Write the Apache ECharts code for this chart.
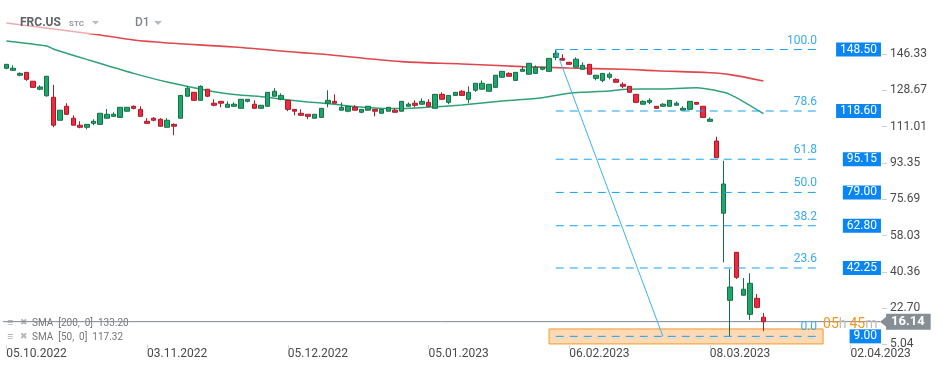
<!DOCTYPE html>
<html><head><meta charset="utf-8">
<script src="https://cdn.jsdelivr.net/npm/echarts@6/dist/echarts.min.js"></script>
<style>html,body{margin:0;padding:0;background:#fff}#c{width:949px;height:370px}</style>
</head><body><div id="c"></div>
<script>
// ---- data ----
// daily candles [open, close, low, high]
const candles = [
[139.4,141.3,138.9,141.4],[138.4,139.4,138.3,140.8],[136.0,136.9,135.5,137.4],[137.4,134.0,133.3,137.5],[133.1,130.1,130.0,133.1],
[129.2,130.3,128.7,131.1],[126.0,135.5,125.6,135.6],[125.3,111.7,110.7,131.3],[114.1,119.0,114.0,119.1],[120.9,117.0,116.9,122.4],
[115.1,111.7,111.6,116.5],[111.7,110.7,110.2,113.6],[110.7,112.1,109.7,112.2],[112.6,113.6,111.7,114.6],[112.1,117.5,112.0,117.6],
[115.1,117.0,115.0,119.6],[116.0,117.0,115.9,118.0],[115.5,120.4,115.4,120.5],[118.5,120.4,118.4,120.5],[120.9,119.9,119.4,121.3],
[119.4,116.0,115.9,120.9],[113.6,112.6,112.5,115.1],[115.1,114.1,113.6,115.6],[114.6,111.2,111.1,115.1],[110.7,114.1,110.6,115.1],
[112.1,111.2,106.8,112.6],[115.1,126.2,115.0,126.3],[125.8,129.7,125.7,130.6],[127.7,123.8,123.7,127.8],[123.8,130.6,123.7,131.1],
[129.2,125.8,125.3,129.3],[122.4,121.4,120.9,124.3],[123.3,122.4,120.4,123.4],[120.4,121.9,120.3,123.3],[120.9,121.9,120.8,122.8],
[119.9,124.3,119.8,124.4],[123.3,124.3,122.8,124.4],[121.9,119.9,119.8,123.8],[119.9,121.4,119.8,121.5],[120.9,127.7,120.8,127.8],
[125.8,128.2,125.7,129.7],[124.3,126.2,123.8,127.2],[123.8,119.4,118.5,123.9],[119.4,118.5,116.5,119.5],[117.5,116.5,116.4,119.4],
[117.0,116.0,114.6,117.1],[115.1,117.0,115.0,117.1],[115.5,119.9,115.4,120.0],[122.4,123.8,120.4,128.7],[123.3,122.4,122.3,126.7],
[119.0,120.4,118.9,122.8],[118.5,120.9,118.0,121.0],[120.4,119.0,118.9,121.4],[118.0,119.4,117.5,119.5],[119.0,120.9,118.9,121.0],
[119.4,118.5,116.0,119.5],[117.5,119.4,117.4,119.5],[118.5,120.4,118.4,120.5],[119.0,118.0,117.9,119.9],[118.5,123.3,118.4,123.4],
[120.9,121.9,120.8,122.8],[122.4,121.4,120.4,123.8],[121.9,123.3,121.8,124.8],[122.8,120.9,120.8,124.3],[119.9,126.7,119.8,126.8],
[126.7,124.3,124.2,127.7],[122.8,126.2,121.9,126.3],[126.2,127.7,126.1,127.8],[128.2,126.2,126.1,128.7],[124.3,127.7,122.4,130.6],
[128.7,132.1,127.9,132.2],[129.2,132.1,129.1,133.5],[128.2,131.6,128.1,131.7],[130.1,136.0,130.0,136.1],[135.0,137.9,134.9,138.0],
[136.9,135.5,135.4,137.4],[133.5,137.4,133.4,137.5],[137.9,138.9,137.8,140.4],[136.5,141.8,136.4,141.9],[136.9,139.9,136.8,140.8],
[138.9,139.9,138.4,140.0],[137.9,144.2,137.8,144.3],[144.7,146.7,143.3,148.5],[144.2,143.3,143.2,146.2],[142.3,141.3,141.2,142.4],
[139.9,143.8,139.8,144.7],[138.9,140.8,138.8,142.3],[141.3,136.5,136.4,141.4],[134.5,136.0,133.5,136.1],[133.5,136.9,132.6,137.0],
[135.0,136.5,134.0,137.4],[134.0,132.6,132.5,134.5],[131.6,130.6,129.7,132.6],[130.6,127.7,127.6,130.7],[126.7,122.8,122.4,126.8],
[121.9,123.3,121.8,123.8],[122.8,123.8,121.9,124.8],[120.9,119.9,119.8,121.0],[120.9,121.9,120.8,122.4],[120.9,123.8,120.8,123.9],
[121.4,122.4,121.3,123.3],[119.0,119.9,118.9,120.9],[119.4,123.3,119.3,123.4],[122.8,121.9,121.8,122.9],[120.9,115.5,115.4,121.0],
[113.6,114.6,113.5,115.5],[104.0,95.9,95.8,106.1],[68.9,83.1,45.0,94.4],[26.5,33.0,9.0,41.8],[49.9,37.7,36.9,50.0],
[29.0,31.9,28.9,37.4],[19.7,34.8,17.0,39.7],[27.5,23.1,22.6,29.6],[18.3,16.14,11.5,20.4]
];
// moving averages: [bar index, value]
const sma200 = [[0,161.4],[14,155.6],[19,153.1],[24,151.7],[34,149.7],[44,147.0],[47,146.3],[59,142.6],[68,141.5],[77,140.2],[84,139.5],[92,138.9],[97,138.2],[105,137.2],[108,136.3],[113,133.2]];
const sma50 = [[0,152.7],[6,150.2],[7,148.8],[12,143.7],[19,136.9],[24,132.7],[31,128.0],[34,126.6],[39,125.3],[40,124.8],[45,123.0],[47,122.5],[50,121.5],[51,121.0],[57,119.8],[59,119.8],[64,120.7],[66,121.0],[68,121.5],[74,123.5],[80,125.1],[84,127.2],[86,127.7],[90,128.3],[92,129.1],[95,129.3],[97,129.3],[103,129.9],[106,128.5],[108,126.7],[113,117.32]];
const sma200Last = 133.20, sma50Last = 117.32;
// fibonacci retracement
const fibRatios = ['100.0','78.6','61.8','50.0','38.2','23.6','0.0'];
const fibPrices = [148.50,118.60,95.15,79.00,62.80,42.25,9.00];
const fibFrom = 82, fibTo = 121.6;          // bar index span of the levels
const trendFrom = [82,148.50], trendTo = [98,9.00];
const zoneX = [81,121.9], zoneY = [12.6,5.3];
const lastPrice = 16.14;
// axes
const yTicks = [146.33,128.67,111.01,93.35,75.69,58.03,40.36,22.70,5.04];
const xTickIdx = [0,21,42,63,84,105,126];
const xTickLabels = ['05.10.2022','03.11.2022','05.12.2022','05.01.2023','06.02.2023','08.03.2023','02.04.2023'];
const nSlots = 140;

// ---- chart ----
const chart = echarts.init(document.getElementById('c'));
const cats = Array.from({length:nSlots},(_,i)=>String(i));
const labelMap = {}; xTickIdx.forEach((k,i)=>labelMap[k]=xTickLabels[i]);
const FONT = 'Roboto';
const YMIN = 4.79, YMAX = 167.73;
const PRICE_X = 130.54, ARROW_X = 130.4, LABEL_X = 131.3, TIMER_X = 121.9;
const FIB = '#14a2f2';

const fibSeries = fibPrices.map((p,i)=>({
  type:'line',xAxisIndex:1,z:4,silent:true,showSymbol:false,symbol:'none',
  data:[[fibFrom,p],[fibTo,p]],
  color:FIB,
  lineStyle:{color:FIB,width:1,type:[8,6]}
}));

chart.setOption({
  animation:false,
  backgroundColor:'#fff',
  textStyle:{fontFamily:FONT},
  grid:{left:3,right:8,top:10,bottom:25,containLabel:false},
  xAxis:[{
    type:'category',data:cats,boundaryGap:true,
    axisLine:{show:false},
    axisTick:{show:true,alignWithLabel:true,length:4,lineStyle:{color:'#d5d5d5'},interval:(i)=>labelMap[i]!==undefined},
    axisLabel:{interval:(i)=>labelMap[i]!==undefined,formatter:(v,i)=>labelMap[i]||'',align:'left',color:'#4a4a4a',fontSize:12,margin:3,fontFamily:FONT},
    splitLine:{show:false}
  },{
    type:'value',min:-0.5,max:nSlots-0.5,show:false
  }],
  yAxis:[{
    type:'value',position:'right',min:YMIN,max:YMAX,
    axisLine:{show:false},axisTick:{show:false},splitLine:{show:false},
    axisLabel:{inside:true,margin:51,align:'left',color:'#4a4a4a',fontSize:12,fontFamily:FONT,customValues:yTicks,formatter:(v)=>v.toFixed(2)}
  },{
    type:'value',position:'right',offset:-54,min:YMIN,max:YMAX,
    axisLine:{show:false},splitLine:{show:false},axisLabel:{show:false},
    axisTick:{show:true,inside:true,length:5,lineStyle:{color:'#cfcfcf'},customValues:yTicks}
  }],
  series:[
    {
      type:'line',xAxisIndex:1,data:sma200,showSymbol:false,smooth:0.3,z:1,
      lineStyle:{color:'#e0474c',width:1.6},silent:true
    },
    {
      type:'line',xAxisIndex:1,data:sma50,showSymbol:false,smooth:0.3,z:1,
      lineStyle:{color:'#2fa276',width:1.5},silent:true
    },
    {
      type:'candlestick',data:candles,barWidth:5,z:3,
      itemStyle:{color:'#1fa66c',borderColor:'#157046',color0:'#ee2a3d',borderColor0:'#ab1a2b',borderWidth:1}
    },
    ...fibSeries,
    { // trend line of the retracement
      type:'line',xAxisIndex:1,z:4,silent:true,showSymbol:false,symbol:'none',
      data:[trendFrom,trendTo],color:'#3cb3f4',lineStyle:{color:'#3cb3f4',width:1,type:'solid'}
    },
    { // fib ratio labels
      type:'scatter',xAxisIndex:1,symbolSize:0,z:6,silent:true,itemStyle:{opacity:1},
      data:fibPrices.map((p,i)=>({value:[fibTo,p],name:fibRatios[i]})),
      label:{show:true,position:'left',distance:4,offset:[0,-9],formatter:'{b}',color:'#3aaaf0',fontSize:12,fontFamily:FONT,opacity:1}
    },
    { // orange zone
      type:'line',xAxisIndex:1,data:[],z:5,silent:true,
      markArea:{silent:true,
        itemStyle:{color:'rgba(250,172,92,0.45)',borderColor:'#f39a2e',borderWidth:1,opacity:1},
        data:[[{coord:[zoneX[0],zoneY[0]]},{coord:[zoneX[1],zoneY[1]]}]]
      }
    },
    { // current price line
      type:'line',xAxisIndex:1,z:2,silent:true,showSymbol:false,symbol:'none',
      data:[[-0.5,lastPrice],[ARROW_X,lastPrice]],color:'#7e878f',
      lineStyle:{color:'#7e878f',width:1,type:'solid'}
    },
    { // fib price boxes on axis
      type:'scatter',xAxisIndex:1,symbolSize:0,z:6,silent:true,
      itemStyle:{opacity:1},
      data:fibPrices.map(p=>[PRICE_X,p]),
      label:{show:true,position:'left',distance:0,formatter:(p)=>p.value[1].toFixed(2),opacity:1,
        color:'#fff',backgroundColor:'#0a86f2',padding:[1,4,1,4],fontSize:12,lineHeight:12,fontFamily:FONT}
    },
    { // last price arrow
      type:'scatter',xAxisIndex:1,z:7,silent:true,
      symbol:'path://M0,8 L10,0 L10,16 Z',symbolSize:[10,16],symbolOffset:[5,0],
      itemStyle:{color:'#868f96',opacity:1},
      data:[[ARROW_X,lastPrice]]
    },
    { // last price label
      type:'scatter',xAxisIndex:1,symbolSize:0,z:7,silent:true,
      itemStyle:{opacity:1},
      data:[[LABEL_X,lastPrice]],
      label:{show:true,position:'right',distance:0,formatter:(p)=>p.value[1].toFixed(2),opacity:1,
        color:'#fff',backgroundColor:'#868f96',padding:[2,6,1,5],fontSize:13,fontWeight:'bold',lineHeight:13,fontFamily:FONT}
    },
    { // countdown
      type:'scatter',xAxisIndex:1,symbolSize:0,z:7,silent:true,
      itemStyle:{opacity:1},
      data:[[TIMER_X,14.6]],
      label:{show:true,position:'right',distance:0,formatter:'{o|05}{g|h} {o|45}{g|m}',opacity:1,
        rich:{o:{color:'#f5961c',fontSize:14,fontFamily:FONT},g:{color:'#c4bcb4',fontSize:14,fontFamily:FONT}}}
    }
  ],
  graphic:[
    {type:'rect',shape:{x:0,y:12,width:112,height:22},style:{fill:'rgba(255,255,255,0.55)'},z:10,silent:true},
    {type:'text',x:20,y:23,style:{text:'FRC.US',font:'bold 12px Roboto',fill:'#5d6369',verticalAlign:'middle'},z:11},
    {type:'text',x:69,y:23.5,style:{text:'STC',font:'bold 8px Roboto',fill:'#969ca2',verticalAlign:'middle'},z:11},
    {type:'polygon',shape:{points:[[92,21],[99,21],[95.5,24.5]]},style:{fill:'#b8bcc0'},z:11},
    {type:'text',x:135,y:23,style:{text:'D1',font:'500 12px Roboto',fill:'#80868c',verticalAlign:'middle'},z:11},
    {type:'polygon',shape:{points:[[154,21],[162,21],[158,25]]},style:{fill:'#b8bcc0'},z:11},
    // indicator legends
    {type:'text',x:7,y:323,style:{text:'≡',font:'bold 11px Roboto',fill:'#b5b5b5',verticalAlign:'middle'},z:1},
    {type:'text',x:20,y:323,style:{text:'✖',font:'9px DejaVu Sans',fill:'#b5b5b5',verticalAlign:'middle'},z:1},
    {type:'text',x:32,y:323.5,style:{text:'SMA  [200,  0]  '+sma200Last.toFixed(2),font:'10px Roboto',fill:'#777',verticalAlign:'middle'},z:1},
    {type:'text',x:7,y:337,style:{text:'≡',font:'bold 11px Roboto',fill:'#b5b5b5',verticalAlign:'middle'},z:1},
    {type:'text',x:20,y:337,style:{text:'✖',font:'9px DejaVu Sans',fill:'#b5b5b5',verticalAlign:'middle'},z:1},
    {type:'text',x:32,y:337,style:{text:'SMA  [50,  0]  '+sma50Last.toFixed(2),font:'10px Roboto',fill:'#777',verticalAlign:'middle'},z:1}
  ]
});
</script></body></html>
